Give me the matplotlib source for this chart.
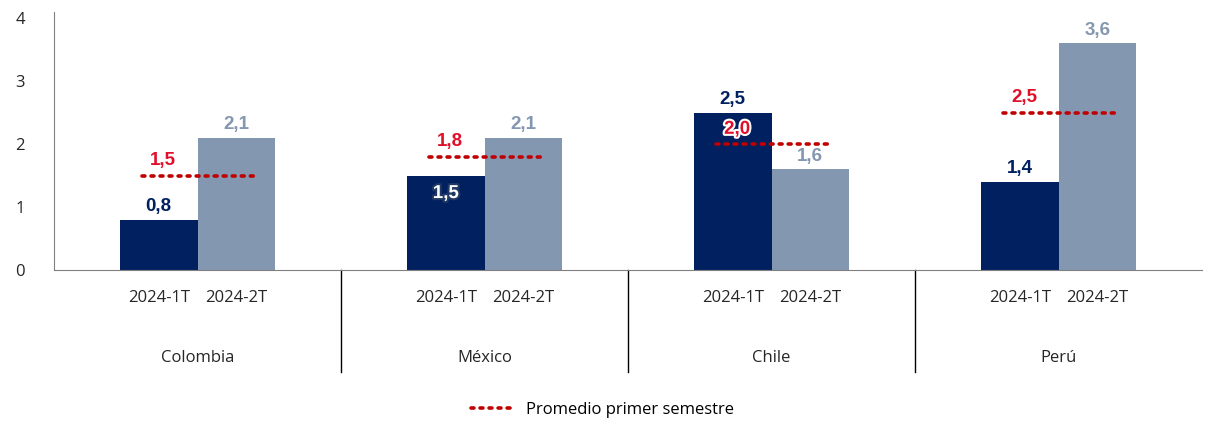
import matplotlib
matplotlib.use("Agg")
import matplotlib.pyplot as plt
import matplotlib.patheffects as pe
from matplotlib.lines import Line2D
import numpy as np

paises = ["Colombia", "México", "Chile", "Perú"]
trimestres = ["2024-1T", "2024-2T"]
valores_1t = [0.8, 1.5, 2.5, 1.4]
valores_2t = [2.1, 2.1, 1.6, 3.6]
promedio = [1.5, 1.8, 2.0, 2.5]

NAVY = "#002060"
GRIS = "#8497B0"
ROJO = "#C00000"
ROJO_TXT = "#E0102B"

plt.rcParams["font.family"] = ["Open Sans", "DejaVu Sans"]

fig = plt.figure(figsize=(12.06, 4.22), dpi=100)
ax = fig.add_axes([0.0448, 0.360, 0.9519, 0.612])

x = np.arange(len(paises))
w = 0.27
ax.bar(x - w / 2, valores_1t, width=w, color=NAVY)
ax.bar(x + w / 2, valores_2t, width=w, color=GRIS)

def fmt(v):
    return f"{v:.1f}".replace(".", ",")

lab = dict(fontsize=13.5, fontweight="bold", ha="center", va="bottom",
           family=["Liberation Sans Narrow", "Liberation Sans", "DejaVu Sans"])

for i in x:
    v1, v2, p = valores_1t[i], valores_2t[i], promedio[i]
    # linea de promedio
    ax.plot([i - 0.195, i + 0.2], [p, p], color=ROJO, lw=2.6,
            linestyle=(0, (0.8, 1.7)), dash_capstyle="round")
    # etiqueta 2T
    ax.text(i + w / 2, v2 + 0.07, fmt(v2), color=GRIS, **lab)
    # etiqueta 1T (dentro de la barra si choca con el promedio)
    if v1 < p and p - v1 < 0.5:
        ax.text(i - w / 2, v1 - 0.42, fmt(v1), color="white",
                path_effects=[pe.withStroke(linewidth=3, foreground="#1F3864")], **lab)
    else:
        ax.text(i - w / 2, v1 + 0.07, fmt(v1), color=NAVY, **lab)
    # etiqueta promedio
    efectos = []
    if p < v1:
        efectos = [pe.withStroke(linewidth=3, foreground="white")]
    ax.text(i - 0.12, p + 0.1, fmt(p), color=ROJO_TXT, path_effects=efectos, **lab)

ax.set_xlim(-0.5, len(paises) - 0.5)
ax.set_ylim(0, 4.1)
ax.set_yticks([0, 1, 2, 3, 4])
ax.tick_params(axis="y", length=0, pad=28, labelsize=12, labelcolor="#262626")
ax.tick_params(axis="x", length=0, pad=14, labelsize=12, labelcolor="#262626")

pos = np.concatenate([x - w / 2, x + w / 2])
etiquetas = [trimestres[0]] * len(x) + [trimestres[1]] * len(x)
ax.set_xticks(pos)
ax.set_xticklabels(etiquetas)

for lbl in ax.get_yticklabels():
    lbl.set_horizontalalignment("left")

trans = ax.get_xaxis_transform()
for i in x:
    ax.text(i, -0.34, paises[i], transform=trans, ha="center", va="center",
            fontsize=12, color="#262626")
for i in range(1, len(paises)):
    ax.plot([i - 0.5, i - 0.5], [0, -0.395], transform=trans, color="black",
            lw=1, clip_on=False)

for s in ["top", "right"]:
    ax.spines[s].set_visible(False)
for s in ["left", "bottom"]:
    ax.spines[s].set_color("#808080")

handle = Line2D([], [], color=ROJO, lw=2.6, linestyle=(0, (0.8, 1.7)),
                dash_capstyle="round")
fig.legend([handle], ["Promedio primer semestre"], loc="center",
           bbox_to_anchor=(0.5, 0.028), frameon=False, fontsize=12,
           handlelength=2.5)

fig.savefig("out.png", dpi=100)
